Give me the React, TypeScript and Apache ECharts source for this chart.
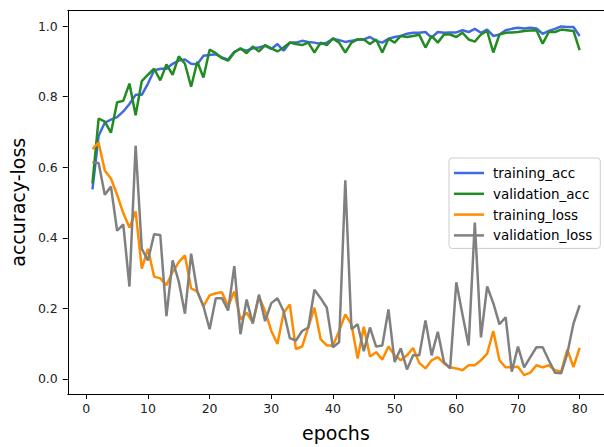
import React, { useEffect, useRef } from "react";
import * as echarts from "echarts";

const epochs: number[] = Array.from({ length: 80 }, (_, i) => i + 1);

const trainingAcc: number[] = [
  0.537, 0.689, 0.726, 0.735, 0.742, 0.758, 0.779, 0.805, 0.805, 0.837,
  0.874, 0.879, 0.879, 0.893, 0.902, 0.905, 0.893, 0.892, 0.916, 0.918,
  0.920, 0.911, 0.905, 0.927, 0.935, 0.930, 0.937, 0.939, 0.944, 0.935,
  0.949, 0.930, 0.953, 0.953, 0.958, 0.955, 0.953, 0.949, 0.953, 0.964,
  0.960, 0.955, 0.958, 0.962, 0.962, 0.969, 0.958, 0.953, 0.964, 0.969,
  0.972, 0.978, 0.981, 0.981, 0.983, 0.967, 0.983, 0.981, 0.982, 0.982,
  0.988, 0.983, 0.992, 0.981, 0.990, 0.972, 0.976, 0.988, 0.992, 0.995,
  0.993, 0.995, 0.993, 0.978, 0.986, 0.992, 0.999, 0.997, 0.997, 0.972,
];

const validationAcc: number[] = [
  0.554, 0.738, 0.729, 0.698, 0.784, 0.788, 0.837, 0.747, 0.844, 0.862,
  0.879, 0.846, 0.891, 0.862, 0.914, 0.893, 0.828, 0.899, 0.854, 0.933,
  0.923, 0.909, 0.902, 0.925, 0.937, 0.923, 0.942, 0.928, 0.946, 0.937,
  0.928, 0.939, 0.953, 0.949, 0.946, 0.953, 0.925, 0.953, 0.946, 0.965,
  0.953, 0.925, 0.953, 0.962, 0.962, 0.949, 0.962, 0.925, 0.964, 0.953,
  0.972, 0.969, 0.972, 0.975, 0.939, 0.972, 0.953, 0.976, 0.976, 0.969,
  0.981, 0.962, 0.956, 0.976, 0.986, 0.925, 0.976, 0.981, 0.982, 0.983,
  0.986, 0.987, 0.988, 0.950, 0.983, 0.983, 0.990, 0.988, 0.986, 0.932,
];

const trainingLoss: number[] = [
  0.651, 0.670, 0.591, 0.568, 0.522, 0.470, 0.429, 0.475, 0.313, 0.369,
  0.290, 0.285, 0.266, 0.303, 0.331, 0.350, 0.257, 0.248, 0.206, 0.237,
  0.243, 0.246, 0.206, 0.248, 0.169, 0.188, 0.160, 0.234, 0.192, 0.136,
  0.099, 0.188, 0.211, 0.085, 0.092, 0.146, 0.202, 0.113, 0.095, 0.095,
  0.136, 0.183, 0.155, 0.058, 0.148, 0.064, 0.076, 0.055, 0.092, 0.067,
  0.053, 0.067, 0.088, 0.045, 0.030, 0.053, 0.062, 0.044, 0.033, 0.030,
  0.025, 0.039, 0.039, 0.053, 0.072, 0.136, 0.053, 0.033, 0.033, 0.035,
  0.011, 0.018, 0.039, 0.033, 0.039, 0.025, 0.021, 0.083, 0.034, 0.088,
];

const validationLoss: number[] = [
  0.614, 0.612, 0.522, 0.545, 0.420, 0.438, 0.262, 0.661, 0.369, 0.336,
  0.410, 0.408, 0.178, 0.336, 0.276, 0.185, 0.355, 0.248, 0.206, 0.141,
  0.229, 0.229, 0.194, 0.320, 0.127, 0.225, 0.157, 0.239, 0.164, 0.215,
  0.229, 0.192, 0.116, 0.109, 0.136, 0.146, 0.253, 0.229, 0.202, 0.090,
  0.104, 0.563, 0.141, 0.155, 0.079, 0.146, 0.092, 0.095, 0.197, 0.048,
  0.087, 0.027, 0.067, 0.067, 0.166, 0.067, 0.134, 0.048, 0.030, 0.274,
  0.183, 0.095, 0.443, 0.118, 0.262, 0.215, 0.155, 0.175, 0.021, 0.092,
  0.033, 0.062, 0.090, 0.090, 0.053, 0.018, 0.016, 0.072, 0.157, 0.209,
];

const xTicks: number[] = [0, 10, 20, 30, 40, 50, 60, 70, 80];
const yTicks: number[] = [0, 0.2, 0.4, 0.6, 0.8, 1.0];

const seriesNames = ["training_acc", "validation_acc", "training_loss", "validation_loss"];
const seriesColors = ["#4169e1", "#228b22", "#ff8c00", "#808080"];
const seriesValues = [trainingAcc, validationAcc, trainingLoss, validationLoss];

const FONT = "DejaVu Sans";
const X_MIN = -3;
const X_MAX = 83.95;

export default function App() {
  const ref = useRef<HTMLDivElement>(null);
  useEffect(() => {
    if (!ref.current) return;
    const chart = echarts.init(ref.current, null, { renderer: "svg" });
    chart.setOption({
      animation: false,
      backgroundColor: "#fff",
      grid: {
        left: 63.5,
        top: 10.5,
        width: 543.4,
        height: 390.5,
      },
      xAxis: [
        {
          type: "value",
          min: X_MIN,
          max: X_MAX,
          name: "epochs",
          nameLocation: "middle",
          nameGap: 29,
          nameTextStyle: { fontFamily: FONT, fontSize: 19, color: "#000" },
          axisLine: { show: true, onZero: false, lineStyle: { color: "#000", width: 1 } },
          splitLine: { show: false },
          axisTick: { show: true, length: 5, lineStyle: { color: "#000" }, customValues: xTicks },
          axisLabel: {
            customValues: xTicks,
            margin: 8,
            fontFamily: FONT,
            fontSize: 12.5,
            color: "#222",
          },
        },
        {
          type: "value",
          position: "top",
          min: X_MIN,
          max: X_MAX,
          axisLine: { show: true, onZero: false, lineStyle: { color: "#000", width: 1 } },
          axisTick: { show: false },
          axisLabel: { show: false },
          splitLine: { show: false },
        },
      ],
      yAxis: {
        type: "value",
        min: -0.0425,
        max: 1.044,
        name: "accuracy-loss",
        nameLocation: "middle",
        nameGap: 39,
        nameTextStyle: { fontFamily: FONT, fontSize: 19, color: "#000" },
        axisLine: { show: true, onZero: false, lineStyle: { color: "#000", width: 1 } },
        splitLine: { show: false },
        axisTick: { show: true, length: 5, lineStyle: { color: "#000" }, customValues: yTicks },
        axisLabel: {
          customValues: yTicks,
          margin: 10,
          fontFamily: FONT,
          fontSize: 12.5,
          color: "#222",
          formatter: (v: number) => v.toFixed(1),
        },
      },
      legend: {
        orient: "vertical",
        left: 449,
        top: 158,
        padding: [8, 8, 6, 5],
        icon: "rect",
        itemWidth: 30,
        itemHeight: 2.5,
        itemGap: 6.8,
        backgroundColor: "rgba(255,255,255,0.8)",
        borderColor: "#cccccc",
        borderWidth: 1,
        borderRadius: 3,
        textStyle: {
          fontFamily: FONT,
          fontSize: 13.5,
          lineHeight: 14,
          color: "#000",
          padding: [0, 0, 0, 4],
        },
        data: seriesNames,
      },
      series: seriesNames.map((name, i) => ({
        name,
        type: "line",
        symbol: "none",
        showSymbol: false,
        color: seriesColors[i],
        lineStyle: { width: 2.5, color: seriesColors[i] },
        data: epochs.map((e, j) => [e, seriesValues[i][j]]),
        z: 2 + i,
      })),
    });
    return () => chart.dispose();
  }, []);
  return <div ref={ref} style={{ width: 604, height: 447, position: "absolute", left: 0, top: 0 }} />;
}
